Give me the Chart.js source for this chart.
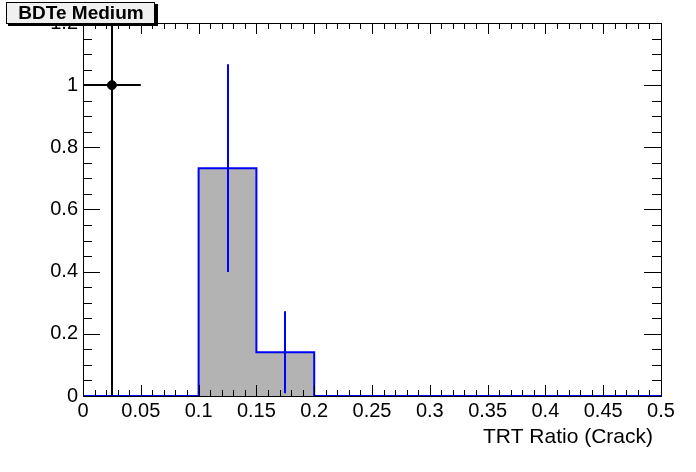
<!DOCTYPE html>
<html>
<head>
<meta charset="utf-8">
<script src="https://cdn.jsdelivr.net/npm/chart.js@4.4.1/dist/chart.umd.min.js"></script>
<style>
  html, body { margin: 0; padding: 0; background: #fff; }
  #wrap { width: 696px; height: 472px; }
</style>
</head>
<body>
<div id="wrap"><canvas id="trt" width="696" height="472"></canvas></div>
<script>
// histogram (MC) - bins of 0.05 from 0 to 0.5
const binEdges = [0, 0.05, 0.1, 0.15, 0.2, 0.25, 0.3, 0.35, 0.4, 0.45, 0.5];
const binCounts = [0, 0, 0.733, 0.141, 0, 0, 0, 0, 0, 0];
const binErrors = [0, 0, 0.334, 0.132, 0, 0, 0, 0, 0, 0];

// data point
const dataX = [0.025];
const dataY = [1];
const dataXErr = [0.025];
const dataYErr = [1];

const xTicks = [0, 0.05, 0.1, 0.15, 0.2, 0.25, 0.3, 0.35, 0.4, 0.45, 0.5];
const yTicks = [0, 0.2, 0.4, 0.6, 0.8, 1, 1.2];

const FONT = "'Liberation Sans', Arial, sans-serif";

// one point per right bin edge; the step covers [left edge, right edge]
const histPoints = [{ x: binEdges[0], y: 0 }].concat(
  binCounts.map((c, i) => ({ x: binEdges[i + 1], y: c })));
const dataPoints = dataX.map((x, i) => ({ x: x, y: dataY[i] }));

// error bars for both series
const errorBars = {
  id: 'errorBars',
  afterDatasetsDraw(chart) {
    const { ctx, chartArea: a, scales: { x, y } } = chart;
    ctx.save();
    ctx.beginPath();
    ctx.rect(a.left, a.top, a.right - a.left, a.bottom - a.top);
    ctx.clip();
    ctx.lineWidth = 2;
    // histogram errors
    ctx.strokeStyle = '#0000ff';
    binCounts.forEach((c, i) => {
      if (!c) return;
      const cx = Math.round(x.getPixelForValue((binEdges[i] + binEdges[i + 1]) / 2));
      ctx.beginPath();
      ctx.moveTo(cx, y.getPixelForValue(c - binErrors[i]));
      ctx.lineTo(cx, y.getPixelForValue(c + binErrors[i]));
      ctx.stroke();
    });
    // data errors
    ctx.strokeStyle = '#000';
    dataX.forEach((dx, i) => {
      const px = Math.round(x.getPixelForValue(dx));
      const py = Math.round(y.getPixelForValue(dataY[i]));
      ctx.beginPath();
      ctx.moveTo(x.getPixelForValue(dx - dataXErr[i]), py);
      ctx.lineTo(x.getPixelForValue(dx + dataXErr[i]), py);
      ctx.moveTo(px, y.getPixelForValue(dataY[i] - dataYErr[i]));
      ctx.lineTo(px, y.getPixelForValue(dataY[i] + dataYErr[i]));
      ctx.stroke();
    });
    ctx.restore();
  }
};

// ROOT style frame with ticks inside on all sides, title box, axis title
const rootFrame = {
  id: 'rootFrame',
  afterDraw(chart) {
    const { ctx, chartArea: a, scales: { x, y } } = chart;
    ctx.save();
    ctx.strokeStyle = '#000';
    ctx.lineWidth = 1;
    ctx.beginPath();
    // x ticks, minor every 0.01
    for (let k = 0; k <= 50; k++) {
      const v = k * 0.01;
      const px = Math.round(x.getPixelForValue(v)) + 0.5;
      const len = k % 5 === 0 ? 11 : 6;
      ctx.moveTo(px, a.bottom); ctx.lineTo(px, a.bottom - len);
      ctx.moveTo(px, a.top); ctx.lineTo(px, a.top + len);
    }
    // y ticks, minor every 0.05
    for (let k = 0; k <= 24; k++) {
      const v = k * 0.05;
      const py = Math.round(y.getPixelForValue(v)) + 0.5;
      const len = k % 4 === 0 ? 17 : 9;
      ctx.moveTo(a.left, py); ctx.lineTo(a.left + len, py);
      ctx.moveTo(a.right, py); ctx.lineTo(a.right - len, py);
    }
    ctx.stroke();
    ctx.strokeRect(Math.round(a.left) + 0.5, Math.round(a.top) + 0.5,
      Math.round(a.right - a.left), Math.round(a.bottom - a.top));

    // axis title
    ctx.fillStyle = '#000';
    ctx.font = '21px ' + FONT;
    ctx.textAlign = 'right';
    ctx.textBaseline = 'alphabetic';
    ctx.fillText('TRT Ratio (Crack)', 653, 443);

    // title box
    ctx.fillStyle = '#000';
    ctx.fillRect(8, 4, 150, 22);
    ctx.fillStyle = '#f0f0f0';
    ctx.fillRect(6, 2, 149, 21);
    ctx.strokeStyle = '#000';
    ctx.strokeRect(6.5, 2.5, 148, 21);
    ctx.fillStyle = '#000';
    ctx.font = 'bold 19px ' + FONT;
    ctx.textAlign = 'center';
    ctx.textBaseline = 'middle';
    ctx.fillText('BDTe Medium', 81, 14);
    ctx.restore();
  }
};

const fmt = v => String(+Number(v).toFixed(2));

new Chart(document.getElementById('trt').getContext('2d'), {
  type: 'scatter',
  data: {
    datasets: [
      {
        label: 'hist',
        type: 'line',
        data: histPoints,
        stepped: 'after',
        borderColor: '#0000ff',
        borderWidth: 2,
        backgroundColor: '#b3b3b3',
        fill: 'origin',
        pointRadius: 0,
        order: 2
      },
      {
        label: 'data',
        data: dataPoints,
        backgroundColor: '#000',
        borderColor: '#000',
        pointRadius: 4.5,
        order: 1
      }
    ]
  },
  options: {
    responsive: false,
    animation: false,
    layout: { padding: { left: 0, top: 23, right: 35, bottom: 0 } },
    plugins: {
      legend: { display: false },
      tooltip: { enabled: false },
      title: { display: false }
    },
    scales: {
      x: {
        type: 'linear',
        min: 0,
        max: 0.5,
        afterFit: s => { s.height = 76; },
        afterBuildTicks: s => { s.ticks = xTicks.map(v => ({ value: v })); },
        grid: { display: false, drawTicks: false },
        border: { display: false },
        ticks: {
          padding: 3,
          color: '#000',
          font: { family: FONT, size: 20 },
          maxRotation: 0,
          autoSkip: false,
          callback: fmt
        }
      },
      y: {
        type: 'linear',
        min: 0,
        max: 1.2,
        afterFit: s => { s.width = 83; },
        afterBuildTicks: s => { s.ticks = yTicks.map(v => ({ value: v })); },
        grid: { display: false, drawTicks: false },
        border: { display: false },
        ticks: {
          padding: 5,
          color: '#000',
          font: { family: FONT, size: 20 },
          autoSkip: false,
          callback: fmt
        }
      }
    }
  },
  plugins: [errorBars, rootFrame]
});
</script>
</body>
</html>
